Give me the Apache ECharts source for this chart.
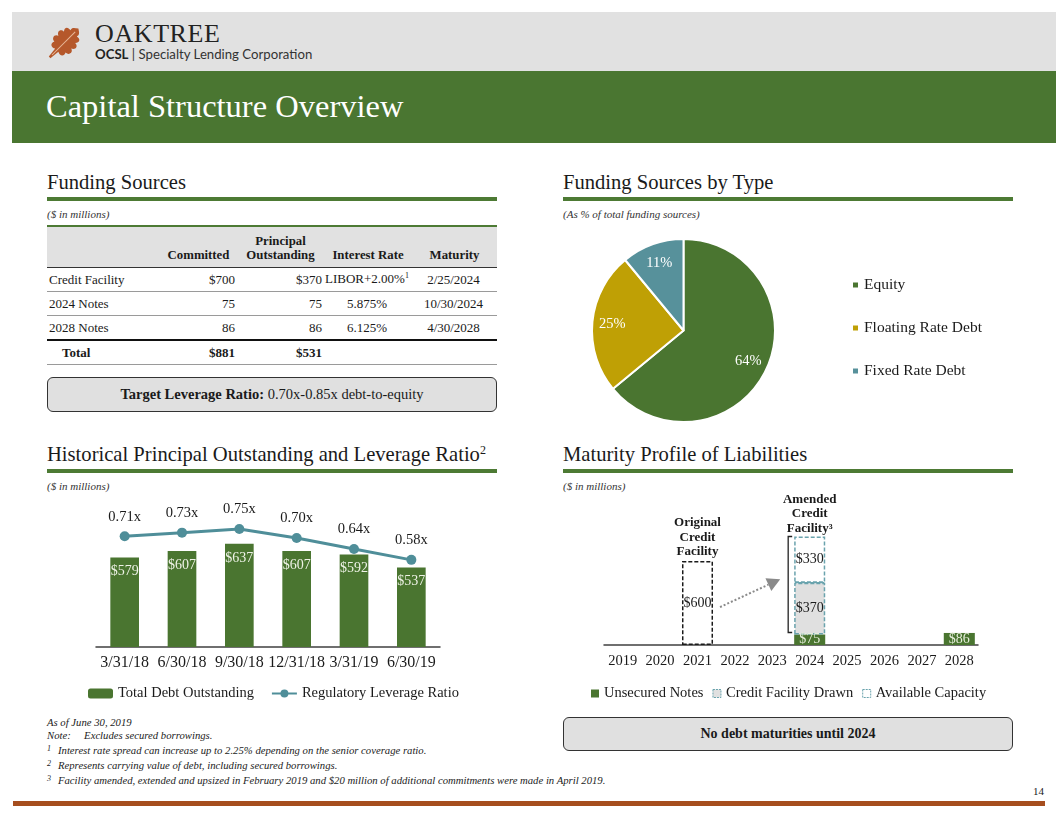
<!DOCTYPE html>
<html><head><meta charset="utf-8">
<script src="https://cdn.jsdelivr.net/npm/echarts@6/dist/echarts.min.js"></script>
<style>
html,body{margin:0;padding:0;width:1056px;height:816px;overflow:hidden;background:#fff;font-family:"Liberation Serif",serif;color:#1a1a1a;}
.a{position:absolute;white-space:nowrap;}
.h{font-size:20.6px;line-height:20px;}
.rule{position:absolute;height:4px;background:#4d7a34;}
.sub{font-size:11px;font-style:italic;line-height:11px;color:#333;}
table{border-collapse:collapse;font-size:13px;}
td{padding:0 2px;height:23px;}
.box{position:absolute;background:#e0e0e0;border:1.5px solid #333;border-radius:6px;box-sizing:border-box;text-align:center;}
.foot{font-size:10.7px;font-style:italic;line-height:13px;color:#222;}
.foot span.n{display:inline-block;width:11px;font-size:8px;vertical-align:3px;}
</style></head><body>
<!-- header -->
<div class="a" style="left:12px;top:12px;width:1044px;height:59px;background:#e1e1e1"></div>
<div class="a" style="left:12px;top:71px;width:1044px;height:72px;background:#4a7631"></div>
<svg class="a" style="left:38px;top:17px" width="52" height="52" viewBox="0 0 46 46">
 <g transform="translate(23,23) rotate(45) translate(-12,-18)">
  <path d="M12,0 C15,2 17,3 16,6 C20,5 22,8 19,11 C23,11 24,15 20,17 C24,18 23,23 19,23 C21,27 17,29 14,27 L13,36 L11,36 L10,27 C7,29 3,27 5,23 C1,23 0,18 4,17 C0,15 1,11 5,11 C2,8 4,5 8,6 C7,3 9,2 12,0 Z" fill="#b5582b"/>
  <path d="M12,4 L12,33" stroke="#e8b898" stroke-width="0.9" fill="none"/>
 </g>
</svg>
<div class="a" style="left:95px;top:21px;font-size:26px;line-height:26px;letter-spacing:0.6px;color:#222">OAKTREE</div>
<div class="a" style="left:95px;top:47px;font-family:Lato,sans-serif;font-size:13.2px;line-height:14px;color:#333"><b style="color:#222">OCSL</b> | Specialty Lending Corporation</div>
<div class="a" style="left:46px;top:90px;font-size:32.5px;line-height:32px;color:#fff">Capital Structure Overview</div>

<!-- section headings -->
<div class="a h" style="left:47px;top:172px">Funding Sources</div>
<div class="rule" style="left:47px;top:197px;width:450px"></div>
<div class="a sub" style="left:47px;top:209px">($ in millions)</div>

<div class="a h" style="left:563px;top:172px">Funding Sources by Type</div>
<div class="rule" style="left:563px;top:197px;width:450px"></div>
<div class="a sub" style="left:563px;top:209px">(As % of total funding sources)</div>

<div class="a h" style="left:47px;top:444px">Historical Principal Outstanding and Leverage Ratio<sup style="font-size:12px;vertical-align:7px;line-height:0">2</sup></div>
<div class="rule" style="left:47px;top:469px;width:450px"></div>
<div class="a sub" style="left:47px;top:481px">($ in millions)</div>

<div class="a h" style="left:563px;top:444px">Maturity Profile of Liabilities</div>
<div class="rule" style="left:563px;top:469px;width:450px"></div>
<div class="a sub" style="left:563px;top:481px">($ in millions)</div>

<!-- table -->
<div class="a" id="tbl" style="left:47px;top:225px;width:450px"></div>

<div class="box" style="left:47px;top:377px;width:450px;height:35px;font-size:14.5px;line-height:32px"><b>Target Leverage Ratio:</b> 0.70x-0.85x debt-to-equity</div>
<div class="box" style="left:563px;top:717px;width:450px;height:34px;font-size:14px;line-height:31px"><b>No debt maturities until 2024</b></div>

<!-- charts -->
<div class="a" id="pie" style="left:560px;top:220px;width:460px;height:205px"></div>
<div class="a" id="hist" style="left:40px;top:490px;width:470px;height:220px"></div>
<div class="a" id="mat" style="left:560px;top:480px;width:460px;height:230px"></div>

<!-- footnotes -->
<div class="a foot" style="left:47px;top:716px">
 <div>As of June 30, 2019</div>
 <div>Note:&nbsp;&nbsp;&nbsp;&nbsp; Excludes secured borrowings.</div>
 <div><span class="n">1</span>Interest rate spread can increase up to 2.25% depending on the senior coverage ratio.</div>
 <div><span class="n">2</span>Represents carrying value of debt, including secured borrowings.</div>
 <div><span class="n">3</span>Facility amended, extended and upsized in February 2019 and $20 million of additional commitments were made in April 2019.</div>
</div>
<div class="a" style="left:13px;top:801px;width:1032px;height:5px;background:#a64e1e"></div>
<div class="a" style="left:1020px;top:786px;width:24px;text-align:right;font-size:11px;line-height:11px">14</div>

<script>
// ---------- data ----------
const tableHeader = ['', 'Committed', 'Principal<br>Outstanding', 'Interest Rate', 'Maturity'];
const tableLabels = ['Credit Facility', '2024 Notes', '2028 Notes'];
const tableCommitted = ['$700', '75', '86'];
const tableOutstanding = ['$370', '75', '86'];
const tableRate = ['LIBOR+2.00%<sup style="font-size:8px">1</sup>', '5.875%', '6.125%'];
const tableMaturity = ['2/25/2024', '10/30/2024', '4/30/2028'];
const tableTotal = ['Total', '$881', '$531'];

const pieNames = ['Equity', 'Floating Rate Debt', 'Fixed Rate Debt'];
const pieValues = [64, 25, 11];
const pieColors = ['#4a7530', '#bfa005', '#57919b'];

const histCategories = ['3/31/18', '6/30/18', '9/30/18', '12/31/18', '3/31/19', '6/30/19'];
const totalDebt = [579, 607, 637, 607, 592, 537];
const leverageRatio = [0.71, 0.73, 0.75, 0.70, 0.64, 0.58];

const years = ['2019', '2020', '2021', '2022', '2023', '2024', '2025', '2026', '2027', '2028'];
const unsecuredNotes = ['-', '-', '-', '-', '-', 75, '-', '-', '-', 86];
const facilityDrawn = ['-', '-', '-', '-', '-', 370, '-', '-', '-', '-'];
const availableCapacity = ['-', '-', '-', '-', '-', 330, '-', '-', '-', '-'];
const originalFacility = ['-', '-', 600, '-', '-', '-', '-', '-', '-', '-'];

const FONT = '"Liberation Serif", serif';
const GREEN = '#4a7530', TEAL = '#4f8e99', DARK = '#1a1a1a';

// ---------- table ----------
(function () {
  const colW = [113, 77, 87, 88, 85];
  const al = ['left', 'right', 'right', 'center', 'center'];
  let h = '<table style="width:450px;table-layout:fixed">';
  h += '<colgroup>' + colW.map(w => '<col style="width:' + w + 'px">').join('') + '</colgroup>';
  h += '<tr style="background:#e1e1e1;border-top:2.5px solid #4d7a34;border-bottom:1.5px solid #333">' +
    tableHeader.map((t, i) => '<td style="height:35px;vertical-align:bottom;padding-bottom:5px;text-align:center;font-weight:bold;font-size:12.8px;line-height:14px">' + t + '</td>').join('') + '</tr>';
  tableLabels.forEach((lab, r) => {
    const cells = [lab, tableCommitted[r], tableOutstanding[r], tableRate[r], tableMaturity[r]];
    const bb = r === tableLabels.length - 1 ? '2px solid #111' : '1px solid #9a9a9a';
    h += '<tr style="border-bottom:' + bb + '">' + cells.map((c, i) => '<td style="text-align:' + al[i] + ';padding-left:' + (i === 0 ? 2 : 0) + 'px">' + c + '</td>').join('') + '</tr>';
  });
  h += '<tr style="border-bottom:1px solid #9a9a9a;font-weight:bold">' +
    '<td style="padding-left:15px">' + tableTotal[0] + '</td><td style="text-align:right">' + tableTotal[1] + '</td><td style="text-align:right">' + tableTotal[2] + '</td><td></td><td></td></tr>';
  h += '</table>';
  document.getElementById('tbl').innerHTML = h;
})();

// ---------- pie ----------
const pie = echarts.init(document.getElementById('pie'), null, { renderer: 'canvas' });
const pieData = pieNames.map((n, i) => ({ name: n, value: pieValues[i], itemStyle: { color: pieColors[i] } }));
pie.setOption({
  animation: false,
  legend: {
    orient: 'vertical', left: 286, top: 52, itemWidth: 7, itemHeight: 7, itemGap: 27,
    icon: 'rect',
    textStyle: { fontFamily: FONT, fontSize: 15.5, color: DARK },
    data: pieNames.map((n, i) => ({ name: n, itemStyle: { color: pieColors[i] } }))
  },
  series: [
    {
      type: 'pie', center: [123.5, 110.5], radius: [0, 91.5], startAngle: 90, clockwise: true,
      label: { show: false }, labelLine: { show: false },
      itemStyle: { borderColor: '#fff', borderWidth: 2 },
      data: pieData
    },
    {
      type: 'pie', center: [123.5, 110.5], radius: [45.75, 91.5], startAngle: 90, clockwise: true, silent: true,
      itemStyle: { color: 'rgba(0,0,0,0)', borderWidth: 0 },
      label: { show: true, position: 'inside', formatter: '{c}%', color: '#fff', fontFamily: FONT, fontSize: 14.5 },
      labelLine: { show: false },
      data: pieNames.map((n, i) => ({ name: n, value: pieValues[i], itemStyle: { color: 'rgba(0,0,0,0)' } }))
    }
  ]
});

// ---------- historical bar + line ----------
const hist = echarts.init(document.getElementById('hist'));
hist.setOption({
  animation: false,
  grid: { left: 56, top: 39, width: 344, height: 118 },
  legend: {
    left: 43, top: 191, itemWidth: 25, itemHeight: 10, itemGap: 17,
    textStyle: { fontFamily: FONT, fontSize: 14.5, color: DARK },
    data: ['Total Debt Outstanding', 'Regulatory Leverage Ratio']
  },
  xAxis: {
    type: 'category', data: histCategories,
    axisLine: { lineStyle: { color: '#404040', width: 1.5 } },
    axisTick: { length: 5, lineStyle: { color: '#404040', width: 1.2 } },
    axisLabel: { interval: 0, fontFamily: FONT, fontSize: 16, color: DARK, margin: 8 }
  },
  yAxis: [
    { type: 'value', min: 200, max: 700, show: false },
    { type: 'value', min: 0.1, max: 0.75, show: false }
  ],
  series: [
    {
      name: 'Total Debt Outstanding', type: 'bar', data: totalDebt, barWidth: '50%',
      itemStyle: { color: GREEN },
      label: { show: true, position: 'insideTop', distance: 7, formatter: '${c}', color: '#eef2e6', fontFamily: FONT, fontSize: 14 }
    },
    {
      name: 'Regulatory Leverage Ratio', type: 'line', yAxisIndex: 1, data: leverageRatio,
      symbol: 'circle', symbolSize: 10, lineStyle: { width: 3, color: TEAL }, itemStyle: { color: TEAL },
      label: { show: true, position: 'top', distance: 7, formatter: p => p.value.toFixed(2) + 'x', fontFamily: FONT, fontSize: 14.5, color: DARK }
    }
  ]
});

// ---------- maturity profile ----------
const mat = echarts.init(document.getElementById('mat'));
const dashBorder = [4, 2];
mat.setOption({
  animation: false,
  grid: { left: 44, top: 25, width: 374, height: 140 },
  legend: {
    left: 26, top: 201, itemWidth: 8, itemHeight: 8, itemGap: 9, icon: 'rect',
    textStyle: { fontFamily: FONT, fontSize: 14.5, color: DARK },
    data: [
      { name: 'Unsecured Notes', itemStyle: { color: GREEN } },
      { name: 'Credit Facility Drawn', itemStyle: { color: '#e0e0e0', borderColor: '#6aa3ad', borderWidth: 1, borderType: [2, 1] } },
      { name: 'Available Capacity', itemStyle: { color: '#fff', borderColor: '#6aa3ad', borderWidth: 1, borderType: [2, 1] } }
    ]
  },
  xAxis: {
    type: 'category', data: years,
    axisLine: { lineStyle: { color: '#404040', width: 1.5 } },
    axisTick: { length: 5, lineStyle: { color: '#404040', width: 1.2 } },
    axisLabel: { interval: 0, fontFamily: FONT, fontSize: 14.5, color: DARK, margin: 9 }
  },
  yAxis: { type: 'value', min: 0, max: 1000, show: false },
  series: [
    {
      name: 'Unsecured Notes', type: 'bar', stack: 'm', data: unsecuredNotes, barCategoryGap: '17%',
      itemStyle: { color: GREEN },
      label: { show: true, position: 'inside', formatter: '${c}', color: '#e6eedb', fontFamily: FONT, fontSize: 14 }
    },
    {
      name: 'Credit Facility Drawn', type: 'bar', stack: 'm', data: facilityDrawn,
      itemStyle: { color: '#e0e0e0', borderColor: '#6aa3ad', borderWidth: 1.5, borderType: dashBorder },
      label: { show: true, position: 'inside', formatter: '${c}', color: DARK, fontFamily: FONT, fontSize: 14 }
    },
    {
      name: 'Available Capacity', type: 'bar', stack: 'm', data: availableCapacity,
      itemStyle: { color: '#fff', borderColor: '#6aa3ad', borderWidth: 1.5, borderType: dashBorder },
      label: { show: true, position: 'inside', formatter: '${c}', color: DARK, fontFamily: FONT, fontSize: 14 }
    },
    {
      name: 'Original Credit Facility', type: 'bar', stack: 'm', data: originalFacility,
      itemStyle: { color: 'rgba(255,255,255,0)', borderColor: '#1a1a1a', borderWidth: 1.5, borderType: dashBorder },
      label: { show: true, position: 'inside', formatter: '${c}', color: DARK, fontFamily: FONT, fontSize: 14 }
    }
  ]
});

// annotations computed from the chart's own scales
(function () {
  const px = (i, v) => mat.convertToPixel({ gridIndex: 0 }, [i, v]);
  const band = px(1, 0)[0] - px(0, 0)[0];
  const barW = band * 0.83;
  const iOrig = originalFacility.findIndex(v => v !== '-');
  const iNew = facilityDrawn.findIndex(v => v !== '-');
  const origTop = px(iOrig, originalFacility[iOrig]);
  const newBase = unsecuredNotes[iNew];
  const drawnTop = newBase + facilityDrawn[iNew];
  const newTotal = drawnTop + availableCapacity[iNew];
  const newTop = px(iNew, newTotal);
  const newLeft = newTop[0] - barW / 2;
  const origRight = origTop[0] + barW / 2;
  const bracketTop = newTop[1];
  const bracketBot = px(iNew, newBase)[1] - 2;
  const bx = newLeft - 6;
  const sep = px(iNew, drawnTop)[1];
  // arrow from the original facility toward the amended facility
  const start = [origRight + 7, px(iOrig, 271)[1]];
  const tip = [newLeft - 14, px(iNew, 470)[1]];
  const dx = tip[0] - start[0], dy = tip[1] - start[1];
  const L = Math.hypot(dx, dy), ux = dx / L, uy = dy / L;
  const headLen = 13, headW = 7;
  const hb = [tip[0] - ux * headLen, tip[1] - uy * headLen];
  const font = 'bold 13px "Liberation Serif", serif';
  mat.setOption({
    graphic: [
      { type: 'text', silent: true, style: { text: 'Original\nCredit\nFacility', x: origTop[0], y: origTop[1] - 2, textAlign: 'center', textVerticalAlign: 'bottom', font: font, lineHeight: 14.5, fill: DARK } },
      { type: 'text', silent: true, style: { text: 'Amended\nCredit\nFacility\u00B3', x: newTop[0], y: newTop[1] - 1, textAlign: 'center', textVerticalAlign: 'bottom', font: font, lineHeight: 14.5, fill: DARK } },
      { type: 'polyline', silent: true, shape: { points: [[bx + 4, bracketTop], [bx, bracketTop], [bx, bracketBot], [bx + 4, bracketBot]] }, style: { stroke: '#222', lineWidth: 1.3, fill: null } },
      { type: 'line', silent: true, shape: { x1: newLeft + 1, y1: sep, x2: newLeft + barW - 1, y2: sep }, style: { stroke: '#6aa3ad', lineWidth: 1.5 } },
      { type: 'line', silent: true, shape: { x1: start[0], y1: start[1], x2: hb[0], y2: hb[1] }, style: { stroke: '#8a8a8a', lineWidth: 2, lineDash: [2, 2] } },
      { type: 'polygon', silent: true, shape: { points: [tip, [hb[0] - uy * headW, hb[1] + ux * headW], [hb[0] + uy * headW, hb[1] - ux * headW]] }, style: { fill: '#8a8a8a' } }
    ]
  });
})();
</script>
</body></html>
